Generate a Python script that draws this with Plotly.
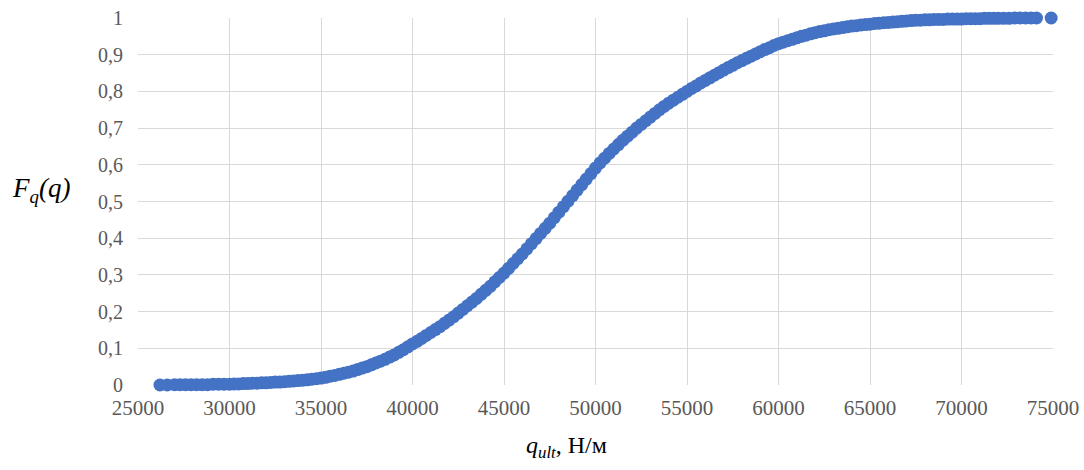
import plotly.graph_objects as go

# ---- data ----
q_lower = [26200, 26600, 27000, 27300, 27600, 27900, 28200, 28500, 28800, 29100, 29400, 29700]
F_lower = [0.000, 0.000, 0.001, 0.001, 0.001, 0.001, 0.001, 0.001, 0.001, 0.002, 0.002, 0.002]

q_body = [
    30000, 30250, 30500, 30750, 31000, 31250, 31500, 31750, 32000, 32250,
    32500, 32750, 33000, 33250, 33500, 33750, 34000, 34250, 34500, 34750,
    35000, 35250, 35500, 35750, 36000, 36250, 36500, 36750, 37000, 37250,
    37500, 37750, 38000, 38250, 38500, 38750, 39000, 39250, 39500, 39750,
    40000, 40250, 40500, 40750, 41000, 41250, 41500, 41750, 42000, 42250,
    42500, 42750, 43000, 43250, 43500, 43750, 44000, 44250, 44500, 44750,
    45000, 45250, 45500, 45750, 46000, 46250, 46500, 46750, 47000, 47250,
    47500, 47750, 48000, 48250, 48500, 48750, 49000, 49250, 49500, 49750,
    50000, 50250, 50500, 50750, 51000, 51250, 51500, 51750, 52000, 52250,
    52500, 52750, 53000, 53250, 53500, 53750, 54000, 54250, 54500, 54750,
    55000, 55250, 55500, 55750, 56000, 56250, 56500, 56750, 57000, 57250,
    57500, 57750, 58000, 58250, 58500, 58750, 59000, 59250, 59500, 59750,
    60000, 60250, 60500, 60750, 61000, 61250, 61500, 61750, 62000, 62250,
    62500, 62750, 63000, 63250, 63500, 63750, 64000, 64250, 64500, 64750,
    65000, 65250, 65500, 65750, 66000, 66250, 66500, 66750, 67000, 67250,
    67500, 67750, 68000, 68250, 68500, 68750, 69000, 69250, 69500, 69750,
    70000, 70250, 70500, 70750, 71000, 71250, 71500, 71750, 72000,
]
F_body = [
    0.002, 0.003, 0.003, 0.004, 0.004, 0.005, 0.005, 0.006, 0.006, 0.007,
    0.008, 0.008, 0.009, 0.010, 0.011, 0.012, 0.013, 0.014, 0.016, 0.017,
    0.019, 0.021, 0.024, 0.026, 0.029, 0.032, 0.035, 0.038, 0.042, 0.046,
    0.050, 0.055, 0.060, 0.065, 0.070, 0.076, 0.082, 0.089, 0.096, 0.104,
    0.112, 0.119, 0.127, 0.135, 0.143, 0.151, 0.159, 0.168, 0.177, 0.186,
    0.196, 0.206, 0.216, 0.226, 0.236, 0.247, 0.258, 0.269, 0.281, 0.293,
    0.305, 0.318, 0.331, 0.344, 0.357, 0.371, 0.385, 0.399, 0.413, 0.427,
    0.441, 0.456, 0.471, 0.486, 0.501, 0.516, 0.531, 0.546, 0.561, 0.576,
    0.591, 0.605, 0.618, 0.631, 0.643, 0.655, 0.667, 0.678, 0.689, 0.700,
    0.710, 0.720, 0.730, 0.740, 0.750, 0.759, 0.768, 0.776, 0.784, 0.792,
    0.800, 0.808, 0.815, 0.823, 0.830, 0.837, 0.844, 0.851, 0.858, 0.865,
    0.871, 0.878, 0.884, 0.890, 0.896, 0.902, 0.908, 0.914, 0.919, 0.925,
    0.930, 0.934, 0.938, 0.942, 0.946, 0.950, 0.953, 0.957, 0.960, 0.963,
    0.965, 0.968, 0.970, 0.972, 0.974, 0.976, 0.978, 0.979, 0.981, 0.982,
    0.983, 0.985, 0.986, 0.987, 0.988, 0.989, 0.990, 0.991, 0.992, 0.993,
    0.994, 0.994, 0.995, 0.995, 0.996, 0.996, 0.996, 0.997, 0.997, 0.997,
    0.997, 0.998, 0.998, 0.998, 0.998, 0.999, 0.999, 0.999, 0.999,
]

q_upper = [72300, 72600, 72900, 73200, 73500, 73800, 74100, 74900]
F_upper = [0.999, 0.999, 1.000, 1.000, 1.000, 1.000, 1.000, 1.000]

x_tick_vals = [25000, 30000, 35000, 40000, 45000, 50000, 55000, 60000, 65000, 70000, 75000]
x_tick_text = ["25000", "30000", "35000", "40000", "45000", "50000", "55000", "60000", "65000", "70000", "75000"]
y_tick_vals = [0, 0.1, 0.2, 0.3, 0.4, 0.5, 0.6, 0.7, 0.8, 0.9, 1]
y_tick_text = ["0", "0,1", "0,2", "0,3", "0,4", "0,5", "0,6", "0,7", "0,8", "0,9", "1"]

q_all = q_lower + q_body + q_upper
F_all = F_lower + F_body + F_upper

W, H = 1084, 470
PL, PR, PT, PB = 138, 1053, 18, 385          # plot area in window pixels
L, R, T, B = PL, W - PR, PT, H - PB


def px_to_paper(xp, yp):
    return (xp - PL) / (PR - PL), (PB - yp) / (PB - PT)


fig = go.Figure()
fig.add_trace(go.Scatter(
    x=q_all, y=F_all, mode="markers",
    marker=dict(color="#4472C4", size=13, line=dict(width=0)),
    cliponaxis=False, showlegend=False, hoverinfo="x+y",
))

serif = "Liberation Serif, Times New Roman, serif"

ytx, yty = px_to_paper(41, 190)
xtx, xty = px_to_paper(566, 447)

fig.update_layout(
    width=W, height=H,
    margin=dict(l=L, r=R, t=T, b=B, autoexpand=False),
    paper_bgcolor="white", plot_bgcolor="white",
    xaxis=dict(
        range=[25000, 75000], tickvals=x_tick_vals, ticktext=x_tick_text,
        showgrid=True, gridcolor="#d9d9d9", gridwidth=1,
        zeroline=False, showline=False, ticks="",
        tickfont=dict(family=serif, size=21, color="#595959"),
        ticklabelstandoff=8, fixedrange=True,
    ),
    yaxis=dict(
        range=[0, 1], tickvals=y_tick_vals, ticktext=y_tick_text,
        showgrid=True, gridcolor="#d9d9d9", gridwidth=1,
        zeroline=False, showline=False, ticks="",
        tickfont=dict(family=serif, size=20, color="#595959"),
        ticklabelstandoff=14, fixedrange=True,
    ),
    annotations=[
        dict(
            text="<i>F<sub>q</sub>(q)</i>", xref="paper", yref="paper",
            x=ytx, y=yty, xanchor="center", yanchor="middle", showarrow=False,
            font=dict(family=serif, size=27, color="black"),
        ),
        dict(
            text="<i>q<sub>ult</sub></i>, Н/м", xref="paper", yref="paper",
            x=xtx, y=xty, xanchor="center", yanchor="middle", showarrow=False,
            font=dict(family=serif, size=24, color="black"),
        ),
    ],
)

# remove the browser's default 8px body margin so the figure sits at the window origin
fig.write_html(
    "out.html",
    config={"displayModeBar": False},
    post_script="document.body.style.margin='0px';document.body.style.padding='0px';",
)
